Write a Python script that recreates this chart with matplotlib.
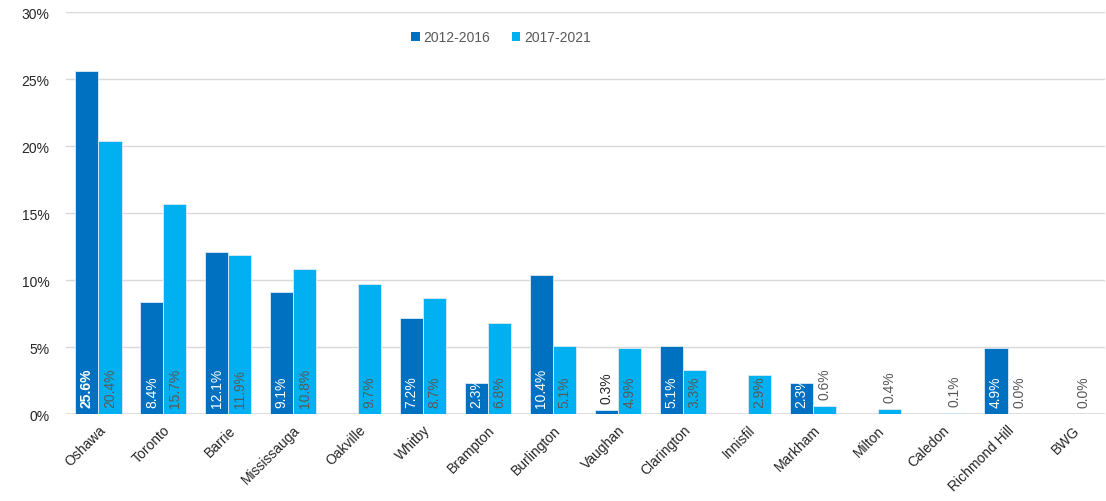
import matplotlib
matplotlib.use("Agg")
import matplotlib.pyplot as plt
import numpy as np
from matplotlib.ticker import FuncFormatter

plt.rcParams['font.family'] = ['Liberation Sans', 'DejaVu Sans']

cities = ["Oshawa", "Toronto", "Barrie", "Mississauga", "Oakville", "Whitby",
          "Brampton", "Burlington", "Vaughan", "Clarington", "Innisfil",
          "Markham", "Milton", "Caledon", "Richmond Hill", "BWG"]
# None = no bar / no label for that period
share_2012_2016 = [25.6, 8.4, 12.1, 9.1, None, 7.2, 2.3, 10.4, 0.3, 5.1,
                   None, 2.3, None, None, 4.9, None]
share_2017_2021 = [20.4, 15.7, 11.9, 10.8, 9.7, 8.7, 6.8, 5.1, 4.9, 3.3,
                   2.9, 0.6, 0.4, 0.1, 0.0, 0.0]
series_names = ["2012-2016", "2017-2021"]
yticks = [0, 5, 10, 15, 20, 25, 30]

DARK = "#0070C0"
LIGHT = "#00B0F0"
GRID = "#D9D9D9"
LABEL_GREY = "#595959"

fig = plt.figure(figsize=(11.06, 5.02), dpi=100)
ax = fig.add_axes([0.0597, 0.173, 0.9393, 0.801])

x = np.arange(len(cities))
w = 0.355

series = [share_2012_2016, share_2017_2021]
colors = [DARK, LIGHT]
offsets = [-w / 2, w / 2]
inside_colors = ["white", LABEL_GREY]
outside_colors = ["#262626", LABEL_GREY]

handles = []
for vals, col, off, in_c, out_c, name in zip(series, colors, offsets,
                                             inside_colors, outside_colors,
                                             series_names):
    xs = [xi + off for xi, v in zip(x, vals) if v is not None]
    hs = [v for v in vals if v is not None]
    bars = ax.bar(xs, hs, width=w, color=col, edgecolor="#DDEBF7",
                  linewidth=0.6, zorder=3, label=name)
    handles.append(bars)
    for xi, v in zip(xs, hs):
        if v >= 1.0:
            ybase, c = 0, in_c
        else:
            ybase, c = v, out_c
        bold = (v == 25.6)
        ax.annotate(f"{v:.1f}%", (xi, ybase), xytext=(0, 5.2),
                    textcoords="offset points", rotation=90,
                    ha="center", va="bottom", fontsize=10, color=c,
                    fontweight="bold" if bold else "normal", zorder=4)

ax.set_xlim(-0.5, len(cities) - 0.5)
ax.set_ylim(0, 30)
ax.set_yticks(yticks)
ax.yaxis.set_major_formatter(FuncFormatter(lambda v, p: f"{v:.0f}%"))
ax.set_xticks(x)
ax.set_xticklabels(cities, rotation=45, ha="right", va="top",
                   rotation_mode="anchor")
ax.tick_params(axis="both", length=0, labelsize=10, colors="#262626")
ax.tick_params(axis="x", pad=6)
ax.tick_params(axis="y", pad=12)

ax.grid(axis="y", color=GRID, linewidth=1.0, zorder=0)
for s in ["top", "right", "left", "bottom"]:
    ax.spines[s].set_visible(False)
ax.axhline(0, color=GRID, linewidth=1.2, zorder=2)

leg = fig.legend(handles=handles, labels=series_names, loc="center",
                 bbox_to_anchor=(0.453, 0.924), ncol=2, frameon=False,
                 fontsize=10, handlelength=0.6, handleheight=0.6,
                 handletextpad=0.25, columnspacing=1.6)
for t in leg.get_texts():
    t.set_color(LABEL_GREY)
for h in leg.legend_handles:
    h.set_edgecolor("none")

fig.savefig("out.png", dpi=100, facecolor="white")
